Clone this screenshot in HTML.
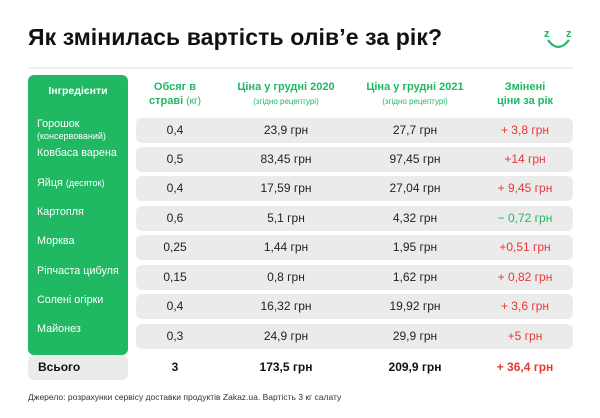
<!DOCTYPE html><html><head><meta charset="utf-8"><style>
body{margin:0;width:600px;height:418px;background:#fff;position:relative;font-family:"Liberation Sans","DejaVu Sans",sans-serif;overflow:hidden}
.a{position:absolute}
.t{left:28px;top:24px;font-size:23px;font-weight:bold;color:#111;letter-spacing:0.1px}
.hl{left:28px;top:67px;width:545px;height:2px;background:#eee}
.gp{left:28px;top:75px;width:100px;height:280px;background:#20b862;border-radius:6px}
.h{color:#20b862;font-weight:bold;font-size:11px;text-align:center;line-height:14px}
.h small{font-weight:normal;font-size:8px}
.bar{left:136px;width:437px;height:25px;background:#ebebeb;border-radius:6px}
.c{font-size:12px;color:#222;text-align:center;width:100px;line-height:25px}
.ing{left:37px;color:#fff;font-size:10.8px;line-height:12px}
.r{color:#e53935}.g{color:#20b862}
</style></head><body>
<div class="a t">Як змінилась вартість олів’е за рік?</div>
<svg class="a" style="left:543px;top:26px" width="32" height="26"><text x="1" y="11" font-size="11" font-weight="bold" fill="#20b862" font-family="Liberation Sans">z</text><text x="23" y="11" font-size="11" font-weight="bold" fill="#20b862" font-family="Liberation Sans">z</text><path d="M5 14 Q15 28 26 14" stroke="#20b862" stroke-width="2.2" fill="none"/></svg>
<div class="a hl"></div>
<div class="a gp"></div>
<div class="a h" style="left:28px;top:84px;width:100px;color:#fff;font-size:10.5px">Інгредієнти</div>
<div class="a h" style="left:135px;top:80px;width:80px">Обсяг в<br>страві <small style="font-size:10px">(кг)</small></div>
<div class="a h" style="left:226px;top:80px;width:120px">Ціна у грудні 2020<br><small>(згідно рецептурі)</small></div>
<div class="a h" style="left:355px;top:80px;width:120px">Ціна у грудні 2021<br><small>(згідно рецептурі)</small></div>
<div class="a h" style="left:475px;top:80px;width:100px">Змінені<br>ціни за рік</div>

<div class="a ing" style="top:118px">Горошок<br><span style="font-size:9px">(консервований)</span></div>
<div class="a ing" style="top:147px">Ковбаса варена</div>
<div class="a ing" style="top:177px">Яйця <span style="font-size:9px">(десяток)</span></div>
<div class="a ing" style="top:206px">Картопля</div>
<div class="a ing" style="top:235px">Морква</div>
<div class="a ing" style="top:265px">Ріпчаста цибуля</div>
<div class="a ing" style="top:294px">Солені огірки</div>
<div class="a ing" style="top:323px">Майонез</div>

<div class="a bar" style="top:118px"></div>
<div class="a bar" style="top:147px"></div>
<div class="a bar" style="top:176px"></div>
<div class="a bar" style="top:206px"></div>
<div class="a bar" style="top:235px"></div>
<div class="a bar" style="top:265px"></div>
<div class="a bar" style="top:294px"></div>
<div class="a bar" style="top:324px"></div>

<div class="a c" style="left:125px;top:118px">0,4</div><div class="a c" style="left:236px;top:118px">23,9 грн</div><div class="a c" style="left:365px;top:118px">27,7 грн</div><div class="a c r" style="left:475px;top:118px">+ 3,8 грн</div>
<div class="a c" style="left:125px;top:147px">0,5</div><div class="a c" style="left:236px;top:147px">83,45 грн</div><div class="a c" style="left:365px;top:147px">97,45 грн</div><div class="a c r" style="left:475px;top:147px">+14 грн</div>
<div class="a c" style="left:125px;top:176px">0,4</div><div class="a c" style="left:236px;top:176px">17,59 грн</div><div class="a c" style="left:365px;top:176px">27,04 грн</div><div class="a c r" style="left:475px;top:176px">+ 9,45 грн</div>
<div class="a c" style="left:125px;top:206px">0,6</div><div class="a c" style="left:236px;top:206px">5,1 грн</div><div class="a c" style="left:365px;top:206px">4,32 грн</div><div class="a c g" style="left:475px;top:206px">− 0,72 грн</div>
<div class="a c" style="left:125px;top:235px">0,25</div><div class="a c" style="left:236px;top:235px">1,44 грн</div><div class="a c" style="left:365px;top:235px">1,95 грн</div><div class="a c r" style="left:475px;top:235px">+0,51 грн</div>
<div class="a c" style="left:125px;top:265px">0,15</div><div class="a c" style="left:236px;top:265px">0,8 грн</div><div class="a c" style="left:365px;top:265px">1,62 грн</div><div class="a c r" style="left:475px;top:265px">+ 0,82 грн</div>
<div class="a c" style="left:125px;top:294px">0,4</div><div class="a c" style="left:236px;top:294px">16,32 грн</div><div class="a c" style="left:365px;top:294px">19,92 грн</div><div class="a c r" style="left:475px;top:294px">+ 3,6 грн</div>
<div class="a c" style="left:125px;top:324px">0,3</div><div class="a c" style="left:236px;top:324px">24,9 грн</div><div class="a c" style="left:365px;top:324px">29,9 грн</div><div class="a c r" style="left:475px;top:324px">+5 грн</div>

<div class="a" style="left:28px;top:355px;width:100px;height:25px;background:#ebebeb;border-radius:6px"></div>
<div class="a" style="left:38px;top:355px;line-height:25px;font-size:12px;font-weight:bold;color:#111">Всього</div>
<div class="a c" style="left:125px;top:355px;font-weight:bold;color:#111">3</div>
<div class="a c" style="left:236px;top:355px;font-weight:bold;color:#111">173,5 грн</div>
<div class="a c" style="left:365px;top:355px;font-weight:bold;color:#111">209,9 грн</div>
<div class="a c r" style="left:475px;top:355px;font-weight:bold">+ 36,4 грн</div>

<div class="a" style="left:28px;top:392px;font-size:8.5px;color:#333">Джерело: розрахунки сервісу доставки продуктів Zakaz.ua. Вартість 3 кг салату</div>
</body></html>
